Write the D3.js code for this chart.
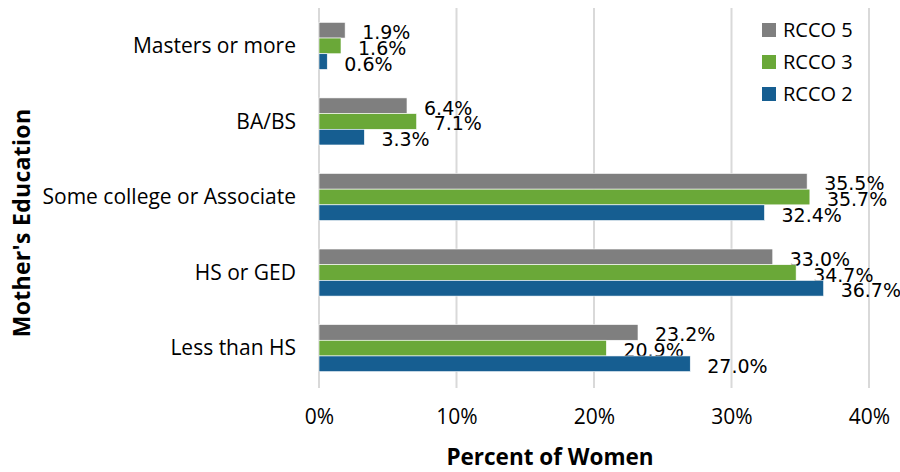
<!DOCTYPE html>
<html><head><meta charset="utf-8">
<script src="https://cdn.jsdelivr.net/npm/d3@7/dist/d3.min.js"></script>
<style>body{margin:0;background:#fff}svg{display:block}</style>
</head><body><svg id="chart" width="900" height="472"></svg>
<script>
const categories = ["Masters or more","BA/BS","Some college or Associate","HS or GED","Less than HS"];
const seriesNames = ["RCCO 5","RCCO 3","RCCO 2"];
const rcco5 = [1.9, 6.4, 35.5, 33.0, 23.2];
const rcco3 = [1.6, 7.1, 35.7, 34.7, 20.9];
const rcco2 = [0.6, 3.3, 32.4, 36.7, 27.0];
const xTicks = [0, 10, 20, 30, 40];
const colors = ["#7f7f7f", "#6aa838", "#165e91"];
const seriesValues = [rcco5, rcco3, rcco2];

const svg = d3.select("#chart");
const m = {left: 319, right: 31, top: 8, bottom: 86};
const W = 900, H = 472;
const x = d3.scaleLinear().domain([0, 40]).range([m.left, W - m.right]);
const y = d3.scaleBand().domain(categories).range([m.top, H - m.bottom]).paddingInner(0.377).paddingOuter(0.19);
const ys = d3.scaleBand().domain(seriesNames).range([0, y.bandwidth()]);

const labelFont = "'Open Sans', 'Liberation Sans', sans-serif";

// gridlines
svg.append("g").selectAll("line").data(xTicks).join("line")
  .attr("x1", d => x(d)).attr("x2", d => x(d))
  .attr("y1", m.top).attr("y2", H - m.bottom + 2)
  .attr("stroke", "#d9d9d9").attr("stroke-width", 2);

// x axis tick labels
const xAxis = d3.axisBottom(x).tickValues(xTicks).tickFormat(d => d + "%").tickSize(0).tickPadding(0);
const gx = svg.append("g").attr("transform", `translate(0,${H - m.bottom})`).call(xAxis);
gx.select(".domain").remove();
gx.selectAll("text").attr("font-family", labelFont).attr("font-size", 21).attr("fill", "#000")
  .attr("dy", null).attr("y", 38);

// y axis labels
const yAxis = d3.axisLeft(y).tickSize(0).tickPadding(23);
const gy = svg.append("g").attr("transform", `translate(${m.left},0)`).call(yAxis);
gy.select(".domain").remove();
gy.selectAll("text").attr("font-family", labelFont).attr("font-size", 21).attr("fill", "#000").attr("dy", "0.35em");

// bars
const groups = svg.append("g").selectAll("g").data(seriesNames).join("g").attr("fill", (d, i) => colors[i]);
groups.selectAll("rect").data((s, si) => categories.map((c, ci) => ({c, s, v: seriesValues[si][ci]})))
  .join("rect")
  .attr("x", x(0)).attr("y", d => y(d.c) + ys(d.s))
  .attr("width", d => x(d.v) - x(0)).attr("height", ys.bandwidth())
  .attr("stroke", "#fff").attr("stroke-width", 0.6);

// data labels
groups.selectAll("text").data((s, si) => categories.map((c, ci) => ({c, s, v: seriesValues[si][ci]})))
  .join("text")
  .attr("x", d => x(d.v) + 17).attr("y", d => y(d.c) + ys(d.s) + ys.bandwidth() / 2 + 2)
  .attr("dominant-baseline", "central")
  .attr("font-family", "'DejaVu Sans', sans-serif").attr("font-size", 19).attr("fill", "#000")
  .text(d => d.v.toFixed(1) + "%");

// legend
const lg = svg.append("g").attr("transform", "translate(762,23)");
seriesNames.forEach((n, i) => {
  lg.append("rect").attr("x", 0).attr("y", i * 32).attr("width", 14).attr("height", 14).attr("fill", colors[i]);
  lg.append("text").attr("x", 21).attr("y", i * 32 + 7).attr("dy", "0.35em")
    .attr("font-family", labelFont).attr("font-size", 20).text(n);
});

// axis titles
svg.append("text").attr("x", 550).attr("y", 465).attr("text-anchor", "middle")
  .attr("font-family", labelFont).attr("font-weight", "bold").attr("font-size", 22.5)
  .text("Percent of Women");
svg.append("text").attr("transform", "translate(30,223) rotate(-90)").attr("text-anchor", "middle")
  .attr("font-family", labelFont).attr("font-weight", "bold").attr("font-size", 23).attr("letter-spacing", 0.3)
  .text("Mother's Education");
</script></body></html>
